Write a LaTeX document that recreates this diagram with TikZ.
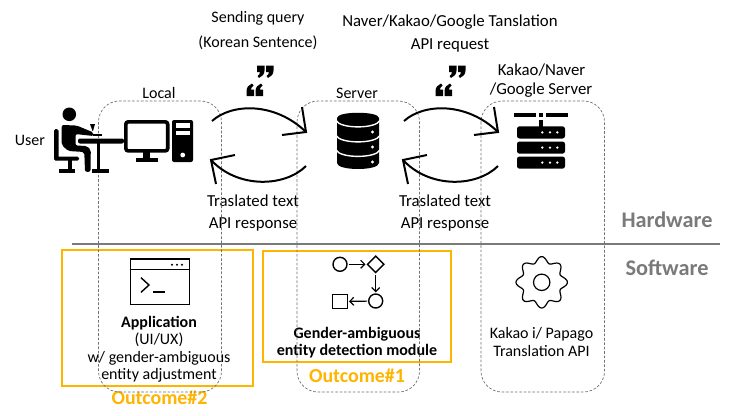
\documentclass[tikz,border=0pt]{standalone}
\usepackage{fontspec}
\setmainfont{Carlito}
\usetikzlibrary{arrows.meta,shapes.geometric}
\definecolor{outc}{HTML}{FFB400}
\definecolor{graytx}{HTML}{7A7A7A}
\definecolor{dashc}{HTML}{707070}
\tikzset{
  lbl/.style={font=\fontsize{16}{18}\selectfont,text=black,inner sep=0pt,align=center},
  lblt/.style={lbl,font=\fontsize{16.8}{18}\selectfont},
  lblb/.style={lbl,font=\fontsize{16}{18}\selectfont\bfseries},
  sect/.style={font=\fontsize{22.3}{24}\selectfont\bfseries,text=graytx,inner sep=0pt},
  outl/.style={font=\fontsize{19.9}{22}\selectfont\bfseries,text=outc,inner sep=0pt},
  zone/.style={draw=dashc,line width=0.7pt,dash pattern=on 2.6pt off 1.8pt,rounded corners=21pt},
  outbox/.style={draw=outc,line width=2.2pt},
  flowline/.style={line width=2pt,draw=black},
  icon/.style={line width=1.4pt,draw=black},
  closeq/.pic={\foreach \d in {0,9}{\fill[black,xshift=\d pt] (0,0)--(7.5,0)--(7.5,5) .. controls (7.5,9) and (5,11) .. (2,12.5)--(0.5,10.5) .. controls (2,9.5) and (3,8) .. (3,6.5)--(0,6.5)--cycle;}},
}
\begin{document}
\begin{tikzpicture}[x=1pt,y=-1pt]
\useasboundingbox[fill=white] (0,0) rectangle (741,415);
% section rule
\coordinate (ruleL) at (72,244);
\coordinate (ruleR) at (720,244);
\draw[line width=1.8pt,draw=graytx] (ruleL) -- (ruleR);
% outcome boxes
\draw[outbox] (62,250) rectangle (253,386);
\draw[outbox] (263,251) rectangle (451,362);
% labels
\node[lbl] (q1) at (258,18) {Sending query};
\node[lbl] (q2) at (258,43) {(Korean Sentence)};
\node[lblt] (r1) at (450,22) {Naver/Kakao/Google Tanslation};
\node[lblt] (r2) at (450,45) {API request};
\node[lblt] (kk1) at (541.5,70) {Kakao/Naver};
\node[lblt] (kk2) at (541,90) {/Google Server};
\node[lbl] (local) at (159,93) {Local};
\node[lbl] (server) at (357,93) {Server};
\node[lbl] (user) at (30,140) {User};
\node[lblt] (t1) at (253,201) {Traslated text};
\node[lblt] (t2) at (253,224) {API response};
\node[lblt] (t3) at (445,201) {Traslated text};
\node[lblt] (t4) at (445,224) {API response};
\node[sect] (hw) at (667,220) {Hardware};
\node[sect] (sw) at (667,268) {Software};
\node[lblb] (app) at (159,323) {Application};
\node[lbl] (ui) at (159,340) {(UI/UX)};
\node[lbl] (wg) at (159,358) {w/ gender-ambiguous};
\node[lbl] (ea) at (159,375) {entity adjustment};
\node[outl] (o2) at (159.5,398) {Outcome\#2};
\node[outl] (o1) at (357,376) {Outcome\#1};
\node[lblb] (ga) at (357,334) {Gender-ambiguous};
\node[lblb] (ed) at (357,351) {entity detection module};
\node[lbl] (ki) at (541.5,334) {Kakao i/ Papago};
\node[lbl] (ta) at (541.5,351) {Translation API};
% dashed zones
\draw[zone] (98.5,101) rectangle (221.5,392);
\draw[zone] (297,101) rectangle (419.5,392);
\draw[zone] (481,101) rectangle (604.5,392);
% exchange arrows
\foreach \n/\dx in {a/0,b/192}{
  \coordinate (\n ts) at (212+\dx,121);
  \coordinate (\n te) at (306+\dx,132);
  \coordinate (\n tb1) at (302+\dx,107);
  \coordinate (\n tb2) at (282+\dx,135);
  \coordinate (\n bs) at (306+\dx,166);
  \coordinate (\n be) at (211+\dx,160);
  \coordinate (\n bb1) at (235+\dx,155);
  \coordinate (\n bb2) at (216+\dx,184);
  \draw[flowline] (\n ts) .. controls (232+\dx,103) and (275+\dx,102) .. (\n te);
  \draw[flowline] (\n tb1) -- (\n te) -- (\n tb2);
  \draw[flowline] (\n bs) .. controls (285+\dx,187) and (238+\dx,189) .. (\n be);
  \draw[flowline] (\n bb1) -- (\n be) -- (\n bb2);
}
% quote marks
\foreach \x/\y in {257/65.5,449/65.5}{\pic at (\x,\y) {closeq};}
\foreach \x/\y in {263/96,452/96}{\pic[rotate=180] at (\x,\y) {closeq};}
% user
\fill (69.3,114.3) circle (6.8);
\fill[rounded corners=1.5pt] (54,129) rectangle (58.5,160);
\fill[rounded corners=1.5pt] (54,156.5) rectangle (79,160.5);
\fill (68,160) rectangle (72,170);
\fill (59,169) rectangle (75,173);
\fill[rounded corners=2pt] (61.7,125)--(76.7,125.5)--(93.5,132.5)--(93.5,136)--(75.5,134)--(75.5,145.5)--(87,146)--(90.8,150)--(90.5,171.8)--(85,171.8)--(84.3,152)--(68.3,151)--(61.7,145)--cycle;
\fill[rounded corners=2pt] (78,138.5) rectangle (124,143.5);
\fill (96.7,143) rectangle (100.3,170);
\fill (92,169) rectangle (109,173);
\fill (90,124) -- (95,124) -- (93,131) -- (92.5,131)--cycle;
\fill (93,134) rectangle (102,135.5);
% monitor
\draw[line width=3.6pt,rounded corners=2.5pt] (125.8,121.8) rectangle (167.7,150.9);
\fill (143,152) rectangle (150,158);
\fill (135.7,157.5) rectangle (158,162);
% tower
\fill[rounded corners=2pt] (172,120) rectangle (193,162);
\fill[white] (176,123) rectangle (190,127.5);
\fill[white] (176,131) rectangle (190,135);
\fill[white] (182.7,155) circle (2.4);
% database
\fill (337,118) .. controls (337,111) and (379,111) .. (379,118) -- (379,163) .. controls (379,171) and (337,171) .. (337,163) -- cycle;
\foreach \y in {120.5,135.5,150}{
  \draw[white,line width=1.4pt] (336,\y) .. controls (340,\y+8.5) and (376,\y+8.5) .. (380,\y);
}
\foreach \y in {132,147,162}{\fill[white] (372.5,\y) circle (1.7);}
% server
\fill (514,113.2) rectangle (535.5,117.2);
\fill (538.5,113.2) rectangle (543,117.2);
\fill (546,113.2) rectangle (568,117.2);
\fill (538.5,119.5) rectangle (543,127);
\foreach \y in {126.3,141.5,156.5}{
  \fill[rounded corners=2.5pt] (517,\y) rectangle (565,\y+12.2);
  \foreach \x in {542.3,550,557.3}{\fill[white] (\x,\y+6.1) circle (1.3);}
}
% terminal
\draw[icon] (130.5,259) rectangle (189.3,304.3);
\draw[line width=1.8pt] (130.5,269.5) -- (189.3,269.5);
\foreach \x in {172,177,182}{\fill (\x,264.7) circle (1.1);}
\draw[icon] (141,277.7) -- (149,285) -- (141,292.3);
\draw[icon] (152.7,291.8) -- (164.7,291.8);
% flow
\node[circle,icon,minimum size=14pt,inner sep=0pt] (fa) at (340,264.3) {};
\node[diamond,icon,minimum size=17pt,inner sep=0pt] (fb) at (375.7,264.3) {};
\node[circle,icon,minimum size=14pt,inner sep=0pt] (fc) at (375.7,301) {};
\node[rectangle,icon,minimum size=14.5pt,inner sep=0pt] (fd) at (340,301.5) {};
\draw[line width=1.2pt,shorten <=1pt,shorten >=1pt,-{Straight Barb[length=4pt,width=8pt]}] (fa) -- (fb);
\draw[line width=1.2pt,shorten <=1pt,shorten >=1pt,-{Straight Barb[length=4pt,width=8pt]}] (fb) -- (fc);
\draw[line width=1.2pt,shorten <=1pt,shorten >=1pt,-{Straight Barb[length=4pt,width=8pt]}] (fc) -- (fd);
% gear
\draw[line width=1.2pt] plot[domain=0:360,samples=145,smooth,variable=\t] ({541.7+(22.8+2.9*cos(8*\t))*cos(\t)},{282.3+(22.8+2.9*cos(8*\t))*sin(\t)}) -- cycle;
\draw[line width=1.2pt] (541.7,282.3) circle (8.2);
\end{tikzpicture}
\end{document}
